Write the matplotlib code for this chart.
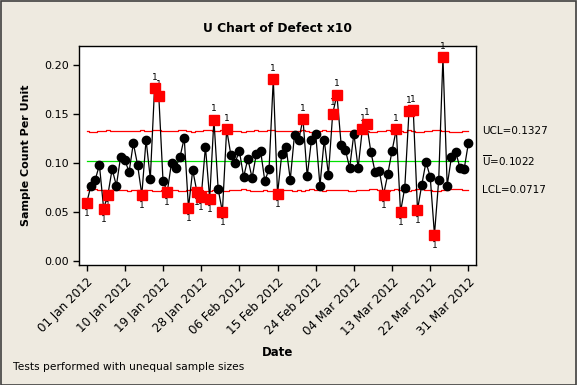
import numpy as np
import matplotlib
matplotlib.use("Agg")
import matplotlib.pyplot as plt

# U values per day (01 Jan - 31 Mar 2012)
u_values = [
    0.0589, 0.0765, 0.0823, 0.0977, 0.0531, 0.0673, 0.0935, 0.0765, 0.1060, 0.1027,
    0.0905, 0.1200, 0.0977, 0.0673, 0.1235, 0.0837, 0.1762, 0.1684, 0.0813, 0.0701,
    0.1000, 0.0949, 0.1058, 0.1252, 0.0541, 0.0925, 0.0701, 0.0650, 0.1163, 0.0633,
    0.1439, 0.0731, 0.0497, 0.1340, 0.1078, 0.1000, 0.1122, 0.0854, 0.1040, 0.0844,
    0.1089, 0.1122, 0.0813, 0.0935, 0.1854, 0.0680, 0.1089, 0.1163, 0.0827, 0.1286,
    0.1235, 0.1446, 0.0860, 0.1235, 0.1296, 0.0765, 0.1235, 0.0878, 0.1500, 0.1694,
    0.1184, 0.1133, 0.0946, 0.1296, 0.0946, 0.1345, 0.1398, 0.1112, 0.0905, 0.0918,
    0.0673, 0.0884, 0.1122, 0.1340, 0.0497, 0.0745, 0.1527, 0.1537, 0.0517, 0.0772,
    0.1007, 0.0854, 0.0265, 0.0823, 0.2078, 0.0765, 0.1058, 0.1112, 0.0949, 0.0935,
    0.1200,
]

# sample sizes (units inspected) - estimated from the stepped limits
sample_sizes = [
    1000, 1090, 1070, 1000, 1000, 920, 1000, 1000, 1000, 1000,
    980, 1020, 1000, 970, 1000, 1000, 920, 940, 1000, 1000,
    1040, 1000, 970, 940, 1020, 1060, 1000, 1000, 970, 950,
    1000, 1000, 950, 930, 1000, 1000, 1000, 1060, 1000, 980,
    970, 980, 1000, 930, 920, 1000, 1020, 1000, 1000, 980,
    1000, 970, 1000, 1080, 1000, 1000, 940, 1000, 1040, 1000,
    1000, 1020, 980, 930, 1000, 1000, 1000, 1090, 1070, 1000,
    1000, 920, 1000, 1110, 1000, 1090, 930, 1000, 1100, 1110,
    1020, 1000, 940, 940, 1000, 1000, 1070, 1060, 1090, 988,
    988,
]

u_bar = 0.1022

tick_positions = [1, 10, 19, 28, 37, 46, 55, 64, 73, 82, 91]
tick_labels = ["01 Jan 2012", "10 Jan 2012", "19 Jan 2012", "28 Jan 2012",
               "06 Feb 2012", "15 Feb 2012", "24 Feb 2012", "04 Mar 2012",
               "13 Mar 2012", "22 Mar 2012", "31 Mar 2012"]

u = np.array(u_values)
n = np.array(sample_sizes, dtype=float)
x = np.arange(1, len(u) + 1)

sigma = np.sqrt(u_bar / n)
ucl = u_bar + 3 * sigma
lcl = u_bar - 3 * sigma
out = (u > ucl) | (u < lcl)

bg = "#EEEAE0"
plt.rcParams["font.family"] = "DejaVu Sans"

fig = plt.figure(figsize=(5.77, 3.85), dpi=100, facecolor=bg)
ax = fig.add_axes([0.137, 0.312, 0.688, 0.569])
ax.set_facecolor("white")

# control limits (stepped because of unequal sample sizes)
ax.plot(x, ucl, color="#FF0000", lw=0.9, drawstyle="steps-mid", zorder=2)
ax.plot(x, lcl, color="#FF0000", lw=0.9, drawstyle="steps-mid", zorder=2)
ax.plot([x[0], x[-1]], [u_bar, u_bar], color="#00E000", lw=0.9, zorder=2)

ax.plot(x, u, color="black", lw=0.9, zorder=3)
ax.plot(x[~out], u[~out], "o", color="black", ms=6, zorder=4)
ax.plot(x[out], u[out], "s", color="#FF0000", ms=7, mec="#FF0000", zorder=5)

for xi, ui, hi in zip(x[out], u[out], u[out] > ucl[out]):
    if hi:
        ax.text(xi, ui + 0.0065, "1", ha="center", va="bottom", fontsize=6.5)
    else:
        ax.text(xi, ui - 0.0065, "1", ha="center", va="top", fontsize=6.5)

ax.set_xlim(-0.8, 92.8)
ax.set_ylim(-0.0044, 0.2194)
ax.set_yticks([0.0, 0.05, 0.10, 0.15, 0.20])
ax.set_yticklabels(["0.00", "0.05", "0.10", "0.15", "0.20"], fontsize=8)
ax.set_xticks(tick_positions)
ax.set_xticklabels(tick_labels, rotation=45, ha="right", rotation_mode="anchor", fontsize=8.6)
ax.tick_params(direction="out", length=4, width=1, color="black")
for s in ax.spines.values():
    s.set_linewidth(1)

ax.set_title("U Chart of Defect x10", fontsize=8.8, fontweight="bold", pad=10)
ax.set_ylabel("Sample Count Per Unit", fontsize=8, fontweight="bold", labelpad=9)
ax.set_xlabel("Date", fontsize=8.5, fontweight="bold", labelpad=6)

# limit labels at right
ax.text(1.015, ucl[-1], f"UCL={ucl[-1]:.4f}", transform=ax.get_yaxis_transform(),
        va="center", ha="left", fontsize=7.5)
ax.text(1.015, u_bar, r"$\overline{\mathrm{U}}$" + f"={u_bar:.4f}", transform=ax.get_yaxis_transform(),
        va="center", ha="left", fontsize=7.5)
ax.text(1.015, lcl[-1], f"LCL={lcl[-1]:.4f}", transform=ax.get_yaxis_transform(),
        va="center", ha="left", fontsize=7.5)

fig.text(0.022, 0.047, "Tests performed with unequal sample sizes", fontsize=7.7, ha="left", va="center")

# dark border around the whole figure
fig.patches.append(plt.Rectangle((0.001, 0.001), 0.998, 0.997, transform=fig.transFigure,
                                 fill=False, edgecolor="#404040", lw=1.2))

fig.savefig("out.png", dpi=100, facecolor=bg)
